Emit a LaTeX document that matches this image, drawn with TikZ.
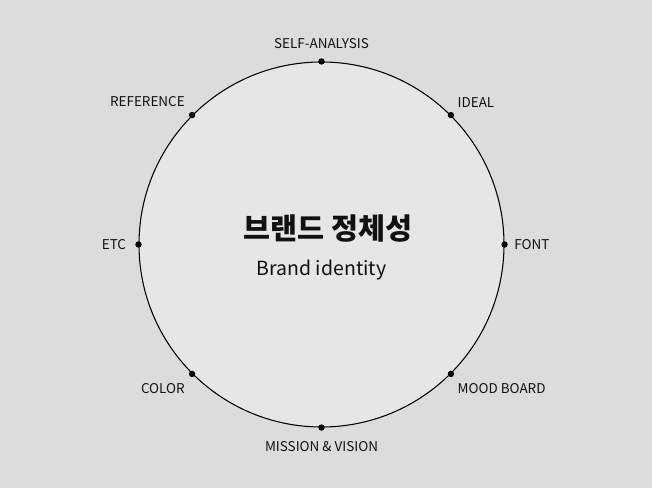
\documentclass[tikz,border=0pt]{standalone}
\usepackage{fontspec}
\setmainfont{Noto Sans CJK KR}
\usetikzlibrary{positioning}
\definecolor{bggray}{HTML}{DCDCDC}
\definecolor{discgray}{HTML}{E6E6E6}
\definecolor{inkgray}{HTML}{111111}
\tikzset{dot/.style={circle,fill=black,inner sep=0pt,minimum size=4.8pt}}
\tikzset{lbl/.style={inner sep=0pt,text=inkgray,font=\fontsize{10.1}{11}\selectfont}}
\begin{document}
\begin{tikzpicture}[x=0.75pt,y=0.75pt]
% \draw[help lines] (0,0) grid (652,488);
\fill[bggray] (0,0) rectangle (652,488);
\node (disc) [circle,draw=black,line width=0.8pt,fill=discgray,inner sep=0pt,minimum size=273.75pt] at (321.5,243.5) {};
%
\node (d1) [dot] at (disc.90) {};
\node (d2) [dot] at (disc.45) {};
\node (d3) [dot] at (disc.0) {};
\node (d4) [dot] at (disc.-45) {};
\node (d5) [dot] at (disc.-90) {};
\node (d6) [dot] at (disc.-135) {};
\node (d7) [dot] at (disc.180) {};
\node (d8) [dot] at (disc.135) {};
%
\node (l1) [lbl,above=7pt of d1] {SELF-ANALYSIS};
\node (l2) [lbl,above right=4pt and 3pt of d2] {IDEAL};
\node (l3) [lbl,right=4.5pt of d3] {FONT};
\node (l4) [lbl,below right=5pt and 3pt of d4] {MOOD BOARD};
\node (l5) [lbl,below=7.5pt of d5] {MISSION \& VISION};
\node (l6) [lbl,below left=5pt and 3.5pt of d6] {COLOR};
\node (l7) [lbl,left=6.5pt of d7] {ETC};
\node (l8) [lbl,above left=4pt and 3.5pt of d8] {REFERENCE};
%
\node (title) [text=inkgray,font=\fontsize{22}{25}\selectfont\bfseries] at (328,259) {브랜드 정체성};
\node (sub) [text=inkgray,font=\fontsize{14.6}{17}\selectfont] at (321.5,218) {Brand identity};
\end{tikzpicture}
\end{document}
